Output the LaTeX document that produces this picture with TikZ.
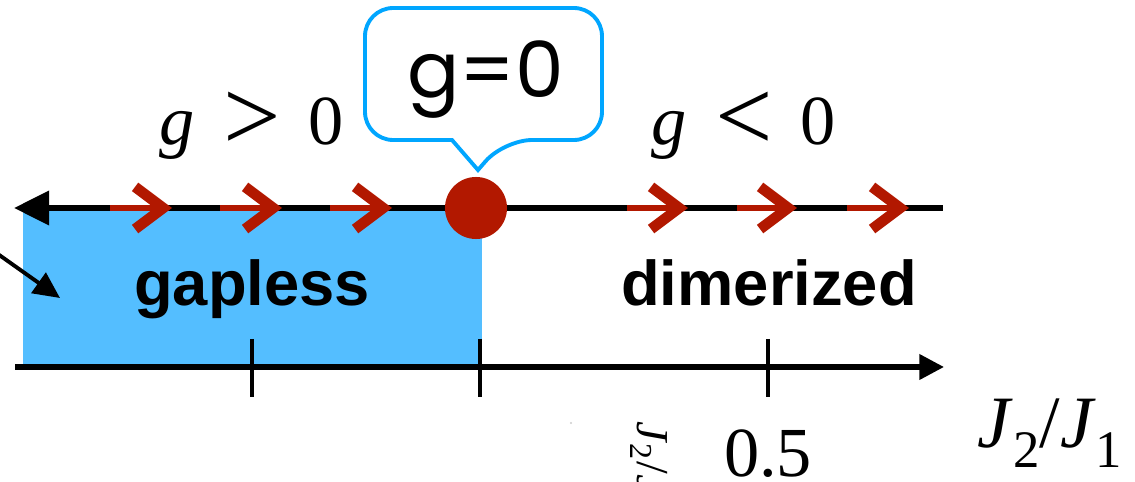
\documentclass[tikz,border=0pt]{standalone}
\usepackage{graphicx}
\usepackage{fontspec}
\setmainfont{Liberation Serif}
\setsansfont{Liberation Sans}
\newfontfamily\calloutfont{Poppins}
\usetikzlibrary{arrows.meta, positioning}
\definecolor{gapblue}{RGB}{84,190,255}
\definecolor{calloutblue}{RGB}{0,166,255}
\definecolor{flowred}{RGB}{178,24,0}
\newcommand{\relsym}[1]{\raisebox{-1.5pt}{\scalebox{1.45}{#1}}}
\newcommand{\lowsub}[1]{\raisebox{-5.5pt}{\fontsize{15}{16}\selectfont #1}}

\begin{document}
\begin{tikzpicture}[
  x=0.01cm, y=-0.01cm,
  axis/.style={line width=1.7pt},
  tickmark/.style={line width=1.4pt},
  flow/.style={draw=flowred, line width=1.7pt,
               -{Straight Barb[length=8pt, width=12pt, line width=3pt]}},
  phase/.style={font=\sffamily\bfseries\fontsize{18}{20}\selectfont,
                anchor=base, inner sep=0pt},
  coupling/.style={font=\fontsize{20}{24}\selectfont, anchor=base, inner sep=0pt},
  >=Stealth
]
  \useasboundingbox (0,0) rectangle (1135,482);

  % Gapless region
  \fill[gapblue] (23,208) rectangle (482,366);

  % Axes
  \coordinate (tl) at (14,208);
  \coordinate (tr) at (943,208);
  \draw[axis, {Triangle[length=10pt, width=9.5pt]}-] (tl) -- (tr);
  \coordinate (bl) at (15,367);
  \coordinate (br) at (944,367);
  \draw[axis, line width=1.45pt, -{Triangle[length=7pt, width=7pt]}] (bl) -- (br);

  % Ticks
  \foreach \x/\n in {252/a, 480/b, 768/c} {
    \coordinate (tick\n top) at (\x,339);
    \coordinate (tick\n bot) at (\x,397);
    \draw[tickmark] (tick\n top) -- (tick\n bot);
  }

  % Flow of g
  \foreach \s/\e [count=\i] in {110/172, 220/282, 330/392, 627/688, 737/797, 847/909} {
    \coordinate (flow\i s) at (\s,208);
    \coordinate (flow\i e) at (\e,208);
    \draw[flow] (flow\i s) -- (flow\i e);
  }

  % Critical point
  \node[circle, fill=flowred, inner sep=0pt, minimum size=0.62cm] (crit) at (476,208) {};

  % Callout
  \draw[calloutblue, line width=1.1pt, fill=white, rounded corners=8pt]
    (452,140) -- (365,140) -- (365,8) -- (602,8) -- (602,140) -- (504,140)
    [sharp corners] -- (478,170) -- cycle;
  \node[font=\calloutfont\fontsize{22}{26}\selectfont, anchor=base] (gzero) at (486,98) {g=0};

  % Labels
  \node[coupling] (gpos) at (252,145) {\textit{g}\hspace{0.4em}\relsym{>}\hspace{0.4em}0};
  \node[coupling] (gneg) at (744,145) {\textit{g}\hspace{0.4em}\relsym{<}\hspace{0.4em}0};
  \node[phase] (gapless) at (252,306) {gapless};
  \node[phase] (dimerized) at (769,306) {dimerized};
  \node[coupling] (half) at (768,477) {0.5};
  \node[coupling, font=\fontsize{21}{24}\selectfont] (ratio) at (1050,448)
    {\textit{J}\lowsub{2}/\textit{J}\lowsub{1}};

  % Pointer into the gapless phase
  \coordinate (mstart) at (-5,252);
  \coordinate (mend) at (60,298);
  \draw[line width=1.1pt, -{Triangle[length=7.5pt, width=7pt]}] (mstart) -- (mend);

  % Stray label
  \node[font=\fontsize{13}{15}\selectfont, rotate=-90, anchor=base west, inner sep=0pt]
    (stray) at (637,421) {\textit{J}\textsubscript{2}/\textit{J}\textsubscript{1}};
  \fill[gray!40] (571,423) circle (1.2);
\end{tikzpicture}
\end{document}
